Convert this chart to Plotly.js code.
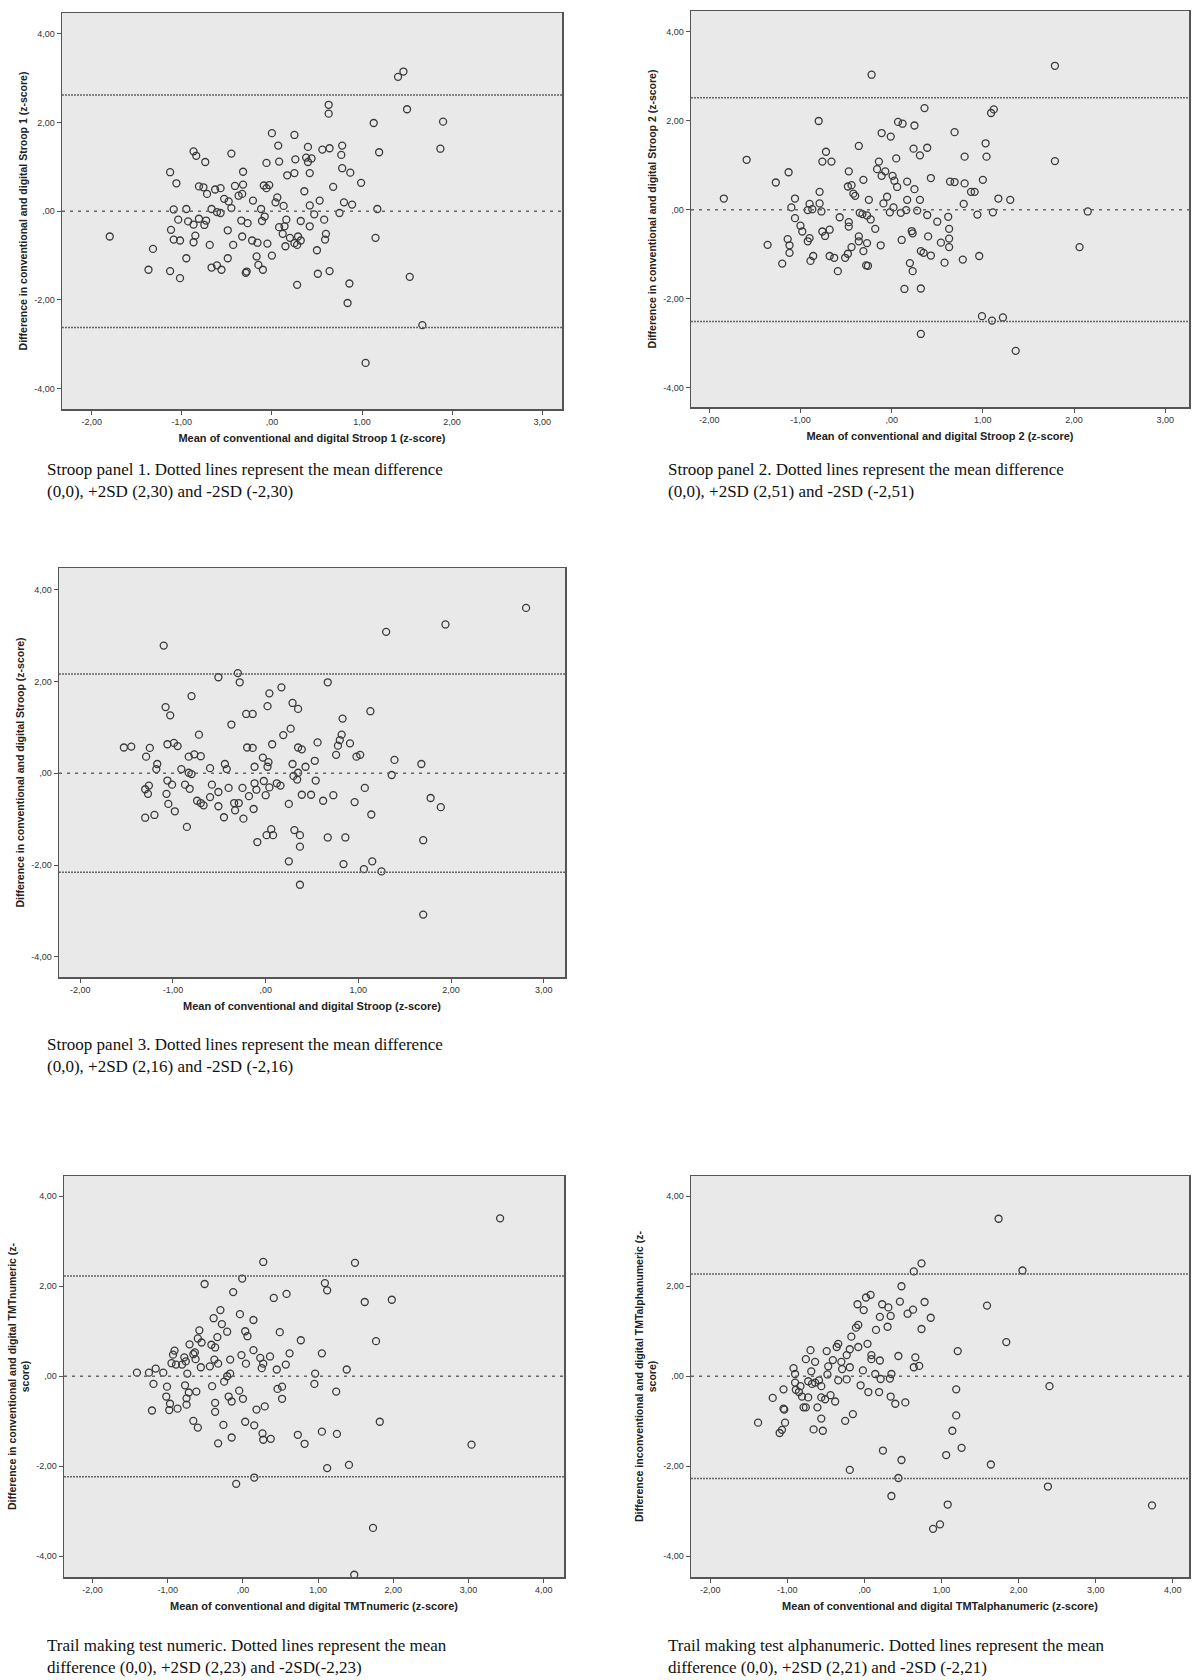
<!DOCTYPE html>
<html>
<head>
<meta charset="utf-8">
<script src="https://cdn.plot.ly/plotly-3.0.1.min.js"></script>
<style>
  html, body { margin: 0; padding: 0; background: #fff; }
  #chart { width: 1192px; height: 1680px; }
</style>
</head>
<body>
<div id="chart"></div>
<script>
// ── Data ──────────────────────────────────────────────────────────────

// Stroop panel 1
const p1x = [-1.80,1.40,1.46,1.50,1.90,1.87,0.63,0.63,1.13,0.00,0.25,0.07,0.40,0.56,0.64,0.78,0.77,1.19,-0.87,-0.84,-0.74,-0.45,-0.06,0.08,0.26,0.38,0.40,0.44,-1.13,-0.32,0.17,0.25,0.42,0.78,0.87,0.99,-1.06,-0.81,-0.76,-0.72,-0.63,-0.57,-0.53,-0.48,-0.41,-0.37,-0.33,-0.32,-0.09,-0.03,-0.06,-0.21,0.06,0.04,0.13,0.36,0.68,0.53,0.42,0.80,0.89,-1.09,-0.95,-0.67,-0.61,-0.57,-0.45,-0.12,-0.08,1.17,0.75,0.47,-1.04,-0.93,-0.87,-0.81,-0.75,-0.73,-0.34,-0.27,-0.11,0.16,0.14,0.08,0.32,0.42,0.58,-1.12,-0.49,0.12,0.20,0.29,0.32,0.25,0.60,0.59,1.15,-1.09,-1.02,-0.87,-0.85,-0.69,-0.43,-0.33,-0.22,-0.16,-0.05,0.15,0.28,-1.32,0.50,-0.95,-0.49,-0.17,0.00,-0.67,-0.61,-0.56,-0.29,-0.28,-0.15,-0.10,-1.37,-1.13,-1.02,0.51,0.64,0.28,0.86,1.53,0.84,1.67,1.04];
const p1y = [-0.57,3.03,3.15,2.30,2.02,1.41,2.40,2.20,1.99,1.76,1.72,1.48,1.45,1.39,1.42,1.48,1.27,1.33,1.35,1.25,1.11,1.30,1.09,1.12,1.17,1.21,1.11,1.19,0.88,0.89,0.81,0.86,0.86,0.97,0.87,0.64,0.63,0.56,0.54,0.39,0.49,0.52,0.28,0.22,0.57,0.35,0.39,0.60,0.58,0.59,0.52,0.24,0.31,0.20,0.12,0.45,0.55,0.24,0.13,0.20,0.15,0.04,0.05,0.05,-0.02,-0.04,0.07,0.05,-0.12,0.05,-0.04,-0.07,-0.19,-0.23,-0.30,-0.17,-0.31,-0.21,-0.21,-0.27,-0.22,-0.19,-0.34,-0.36,-0.22,-0.34,-0.19,-0.42,-0.43,-0.51,-0.60,-0.57,-0.66,-0.72,-0.51,-0.64,-0.60,-0.64,-0.66,-0.70,-0.55,-0.76,-0.76,-0.57,-0.66,-0.71,-0.73,-0.79,-0.76,-0.85,-0.88,-1.06,-1.06,-1.02,-1.00,-1.27,-1.22,-1.32,-1.39,-1.36,-1.21,-1.32,-1.32,-1.35,-1.51,-1.41,-1.35,-1.66,-1.63,-1.48,-2.07,-2.57,-3.42];

// Stroop panel 2
const p2x = [-1.84,-1.59,-1.27,-1.13,-1.06,-1.10,-1.06,-1.00,-0.98,-1.14,-1.12,-1.12,-1.36,-1.20,-0.90,-0.92,-0.87,-0.79,-0.77,-0.79,-0.80,-0.72,-0.76,-0.66,-0.90,-0.92,-0.76,-0.73,-0.68,-0.86,-0.89,-0.68,-0.63,-0.59,-0.51,-0.48,-0.44,-0.57,-0.47,-0.47,-0.47,-0.48,-0.44,-0.42,-0.40,-0.36,-0.31,-0.35,-0.32,-0.27,-0.36,-0.36,-0.27,-0.31,-0.28,-0.26,-0.25,-0.23,-0.18,-0.22,-0.12,-0.14,-0.16,-0.11,-0.11,-0.07,-0.09,-0.05,-0.01,0.01,0.03,0.05,0.06,-0.02,0.02,0.07,0.12,0.10,0.11,0.17,0.17,0.16,0.22,0.23,0.20,0.23,0.14,0.24,0.25,0.25,0.28,0.31,0.31,0.36,0.39,0.39,0.32,0.35,0.43,0.40,0.43,0.32,0.32,0.50,0.54,0.58,0.62,0.63,0.63,0.63,0.64,0.69,0.69,0.78,0.79,0.80,0.80,0.87,0.91,0.94,0.96,1.00,1.03,1.04,1.09,1.12,1.11,1.17,1.30,0.99,1.10,1.22,1.36,1.79,1.79,2.06,2.15];
const p2y = [0.25,1.12,0.61,0.84,0.25,0.05,-0.19,-0.36,-0.49,-0.66,-0.80,-0.97,-0.79,-1.21,0.13,-0.01,0.01,0.14,-0.04,0.40,1.99,1.30,1.08,1.08,-0.64,-0.71,-0.49,-0.59,-0.45,-1.04,-1.15,-1.04,-1.08,-1.38,-1.08,-0.99,-0.84,-0.17,-0.28,-0.38,0.86,0.52,0.55,0.36,0.31,1.43,0.67,-0.07,-0.10,-0.13,-0.60,-0.71,-0.75,-0.93,-1.25,-1.26,0.22,-0.22,-0.43,3.03,-0.80,1.08,0.91,1.72,0.76,0.86,0.14,0.29,1.64,0.76,0.65,1.15,0.51,-0.06,0.05,1.97,1.93,-0.07,-0.68,0.63,0.22,-0.01,-0.48,-0.53,-1.20,-1.38,-1.78,1.37,1.89,0.46,-0.02,1.22,0.22,2.28,1.39,-0.12,-0.93,-0.97,-1.03,-0.60,0.71,-1.77,-2.79,-0.27,-0.74,-1.19,-0.16,-0.43,-0.65,-0.84,0.63,0.62,1.74,-1.12,0.13,0.59,1.19,0.40,0.40,-0.11,-1.04,0.67,1.49,1.19,2.17,2.25,-0.06,0.25,0.22,-2.39,-2.49,-2.42,-3.17,3.23,1.09,-0.84,-0.04];

// Stroop panel 3
const p3x = [-1.53,-1.45,-1.29,-1.25,-1.17,-1.18,-1.30,-1.26,-1.27,-1.30,-1.20,-1.10,-1.08,-1.03,-1.06,-0.99,-0.95,-1.06,-1.01,-1.07,-1.05,-0.98,-0.91,-0.87,-0.83,-0.80,-0.82,-0.85,-0.80,-0.83,-0.77,-0.70,-0.72,-0.74,-0.70,-0.67,-0.60,-0.58,-0.60,-0.51,-0.51,-0.51,-0.44,-0.42,-0.40,-0.45,-0.37,-0.34,-0.33,-0.30,-0.28,-0.29,-0.25,-0.24,-0.21,-0.14,-0.20,-0.14,-0.12,-0.12,-0.10,-0.13,-0.18,-0.09,-0.03,-0.02,0.00,0.02,0.04,0.03,0.02,0.04,0.01,0.06,0.08,0.07,0.12,0.16,0.17,0.19,0.25,0.25,0.27,0.29,0.29,0.35,0.30,0.34,0.35,0.35,0.39,0.31,0.37,0.37,0.37,0.39,0.43,0.49,0.53,0.54,0.56,0.62,0.67,0.67,0.73,0.76,0.78,0.80,0.82,0.83,0.84,0.86,0.91,0.96,0.98,1.02,1.06,1.07,1.13,1.14,1.15,1.25,1.30,1.36,1.39,1.68,1.70,1.70,1.78,1.89,1.94,2.81];
const p3y = [0.56,0.58,0.36,0.55,0.20,0.09,-0.35,-0.27,-0.45,-0.97,-0.91,2.78,1.44,1.26,0.63,0.66,0.59,-0.16,-0.25,-0.45,-0.67,-0.83,0.09,-0.25,0.01,-0.02,-0.34,-1.17,1.68,0.36,0.41,0.37,0.84,-0.60,-0.65,-0.70,0.11,-0.25,-0.52,-0.72,2.09,-0.41,0.20,0.09,-0.32,-0.96,1.06,-0.65,-0.81,2.18,1.98,-0.65,-0.32,-0.99,1.29,1.29,0.56,0.55,0.14,-0.22,-0.36,-0.78,-0.50,-1.50,0.34,-0.17,-0.48,1.46,1.74,0.24,0.14,-0.31,-1.35,-1.22,-1.35,0.63,-0.22,-0.27,1.87,0.83,-0.67,-1.92,0.97,0.20,1.53,1.40,-0.06,-0.14,0.01,0.56,0.52,-1.24,-1.35,-1.60,-2.43,-0.47,0.14,-0.47,0.27,-0.16,0.67,-0.60,1.98,-1.40,-0.48,0.40,0.60,0.72,0.84,1.19,-1.98,-1.40,0.65,-0.63,0.36,0.40,-2.09,-0.32,1.35,-0.90,-1.92,-2.14,3.08,-0.04,0.29,0.20,-1.46,-3.08,-0.54,-0.74,3.24,3.60];

// Trail making test numeric
const p4x = [-1.41,-1.25,-1.16,-1.06,-1.19,-1.21,-1.01,-1.02,-0.97,-0.98,-0.95,-0.93,-0.91,-0.89,-0.87,-0.81,-0.78,-0.76,-0.74,-0.77,-0.72,-0.75,-0.75,-0.71,-0.66,-0.64,-0.63,-0.62,-0.66,-0.60,-0.58,-0.56,-0.60,-0.55,-0.51,-0.42,-0.44,-0.41,-0.39,-0.38,-0.37,-0.37,-0.37,-0.34,-0.33,-0.33,-0.30,-0.28,-0.26,-0.25,-0.21,-0.21,-0.19,-0.17,-0.17,-0.15,-0.15,-0.13,-0.09,-0.04,-0.05,-0.02,-0.01,0.00,0.03,0.04,0.06,0.03,0.14,0.14,0.15,0.15,0.18,0.23,0.25,0.27,0.26,0.27,0.27,0.29,0.36,0.37,0.41,0.45,0.46,0.49,0.52,0.52,0.57,0.58,0.62,0.73,0.77,0.82,0.95,0.96,1.05,1.05,1.09,1.12,1.12,1.24,1.25,1.38,1.41,1.49,1.48,1.62,1.73,1.77,1.82,1.98,3.04,3.42];
const p4y = [0.08,0.08,0.17,0.08,-0.17,-0.76,-0.23,-0.45,-0.61,-0.75,0.29,0.48,0.57,0.26,-0.72,0.26,0.42,0.33,0.06,-0.20,-0.36,-0.49,-0.63,0.71,0.49,0.53,0.38,-0.34,-0.99,-1.14,1.02,0.20,0.84,0.75,2.05,0.70,0.22,-0.22,1.29,0.37,-0.59,-0.79,0.64,0.87,0.28,-1.49,1.47,1.16,-1.08,-0.12,0.99,0.00,-0.45,0.37,0.06,-0.56,-1.36,1.87,-2.39,1.38,-0.32,0.47,2.17,-0.50,1.00,0.28,0.89,-1.01,1.25,0.58,-2.25,-1.09,-0.74,0.41,0.18,0.28,-1.27,-1.41,2.54,-0.67,0.44,-1.39,1.74,0.15,-0.28,0.98,-0.23,-0.50,0.26,1.83,0.51,-1.30,0.80,-1.50,-0.17,0.06,-1.23,0.51,2.07,1.91,-2.04,-0.34,-1.28,0.15,-1.97,2.52,-4.41,1.65,-3.37,0.78,-1.01,1.70,-1.52,3.51];

// Trail making test alphanumeric
const p5x = [-1.38,-1.19,-1.10,-1.07,-1.05,-1.05,-1.04,-1.03,-0.92,-0.90,-0.90,-0.89,-0.85,-0.83,-0.81,-0.79,-0.76,-0.76,-0.73,-0.73,-0.70,-0.69,-0.68,-0.66,-0.64,-0.64,-0.61,-0.59,-0.56,-0.56,-0.56,-0.54,-0.51,-0.49,-0.47,-0.48,-0.44,-0.41,-0.38,-0.36,-0.34,-0.34,-0.30,-0.29,-0.25,-0.23,-0.23,-0.19,-0.19,-0.19,-0.17,-0.15,-0.11,-0.09,-0.08,-0.08,-0.05,-0.02,-0.01,0.02,0.04,0.05,0.08,0.09,0.09,0.14,0.15,0.19,0.20,0.20,0.21,0.23,0.24,0.30,0.31,0.34,0.34,0.33,0.35,0.35,0.40,0.44,0.44,0.46,0.48,0.48,0.53,0.56,0.63,0.64,0.66,0.64,0.71,0.74,0.74,0.78,0.86,0.89,0.98,1.06,1.08,1.14,1.19,1.19,1.21,1.26,1.59,1.64,1.74,1.84,2.05,2.38,2.40,3.73];
const p5y = [-1.03,-0.48,-1.26,-1.19,-0.29,-0.72,-0.74,-1.03,0.18,0.05,-0.14,-0.30,-0.35,-0.22,-0.45,-0.69,-0.69,0.38,-0.47,-0.11,0.58,0.11,-0.17,-1.18,0.32,-0.14,-0.69,-0.09,-0.22,-0.47,-0.94,-1.21,-0.51,0.56,0.22,0.04,-0.42,0.36,-0.56,0.65,0.72,-0.09,0.32,0.16,-0.99,-0.07,0.47,0.20,0.60,-2.08,0.88,-0.84,1.08,1.60,1.14,0.65,-0.20,0.13,1.47,1.75,0.72,-0.35,1.81,0.47,0.38,0.05,1.03,-0.35,1.32,0.35,-0.06,1.60,-1.65,1.10,1.53,1.34,-0.45,-0.05,0.05,-2.66,-0.61,-2.26,0.45,1.66,2.00,-1.86,-0.58,1.39,1.48,0.20,0.42,2.33,0.23,1.05,2.51,1.65,1.30,-3.39,-3.29,-1.75,-2.85,-1.21,-0.29,-0.87,0.56,-1.59,1.57,-1.96,3.50,0.76,2.35,-2.45,-0.22,-2.87];

// Limits of agreement (dotted lines)
const limits = [2.62, 2.51, 2.16, 2.23, 2.27];

const yTicks = [-4, -2, 0, 2, 4];
const yTickText = ['-4,00', '-2,00', ',00', '2,00', '4,00'];
const xTicksStroop = [-2, -1, 0, 1, 2, 3];
const xTextStroop = ['-2,00', '-1,00', ',00', '1,00', '2,00', '3,00'];
const xTicksTmt = [-2, -1, 0, 1, 2, 3, 4];
const xTextTmt = ['-2,00', '-1,00', ',00', '1,00', '2,00', '3,00', '4,00'];

const xTitles = [
    'Mean of conventional and digital Stroop 1 (z-score)',
    'Mean of conventional and digital Stroop 2 (z-score)',
    'Mean of conventional and digital Stroop (z-score)',
    'Mean of conventional and digital TMTnumeric (z-score)',
    'Mean of conventional and digital TMTalphanumeric (z-score)'
];
const yTitles = [
    'Difference in conventional and digital Stroop 1 (z-score)',
    'Difference in conventional and digital Stroop 2 (z-score)',
    'Difference in conventional and digital Stroop (z-score)',
    'Difference in conventional and digital TMTnumeric (z-<br>score)',
    'Difference inconventional and digital TMTalphanumeric (z-<br>score)'
];
const captions = [
    'Stroop panel 1. Dotted lines represent the mean difference<br>(0,0), +2SD (2,30) and -2SD (-2,30)',
    'Stroop panel 2. Dotted lines represent the mean difference<br>(0,0), +2SD (2,51) and -2SD (-2,51)',
    'Stroop panel 3. Dotted lines represent the mean difference<br>(0,0), +2SD (2,16) and -2SD (-2,16)',
    'Trail making test numeric. Dotted lines represent the mean<br>difference (0,0), +2SD (2,23) and -2SD(-2,23)',
    'Trail making test alphanumeric. Dotted lines represent the mean<br>difference (0,0), +2SD (2,21) and -2SD (-2,21)'
];

// ── Layout of the five panels (pixel boxes, turned into paper fractions) ──
const W = 1192, H = 1680;
const panels = [
    { xs: p1x, ys: p1y, px: [62, 562],  py: [13, 409],    xr: [-2.33, 3.22], yr: [-4.46, 4.47], tmt: false, cap: [45, 458] },
    { xs: p2x, ys: p2y, px: [691, 1189], py: [11, 407],   xr: [-2.2, 3.26],  yr: [-4.43, 4.46], tmt: false, cap: [666, 458] },
    { xs: p3x, ys: p3y, px: [59, 565],  py: [568, 977],   xr: [-2.23, 3.23], yr: [-4.44, 4.47], tmt: false, cap: [45, 1033] },
    { xs: p4x, ys: p4y, px: [64, 564],  py: [1176, 1577], xr: [-2.38, 4.27], yr: [-4.46, 4.45], tmt: true,  cap: [45, 1634] },
    { xs: p5x, ys: p5y, px: [691, 1189], py: [1176, 1577], xr: [-2.25, 4.21], yr: [-4.46, 4.45], tmt: true,  cap: [666, 1634] }
];

const traces = [];
const shapes = [];
const annotations = [];
const layout = {
    width: W, height: H,
    margin: { l: 0, r: 0, t: 0, b: 0 },
    paper_bgcolor: '#ffffff',
    plot_bgcolor: '#e9e9e9',
    showlegend: false,
    font: { family: 'Liberation Sans, Arial, sans-serif', color: '#222' }
};

panels.forEach((p, i) => {
    const n = i + 1;
    const xa = 'x' + (n === 1 ? '' : n);
    const ya = 'y' + (n === 1 ? '' : n);
    const xKey = 'xaxis' + (n === 1 ? '' : n);
    const yKey = 'yaxis' + (n === 1 ? '' : n);

    traces.push({
        x: p.xs, y: p.ys, xaxis: xa, yaxis: ya,
        type: 'scatter', mode: 'markers', cliponaxis: false,
        marker: { symbol: 'circle-open', size: 7, color: '#3a3a3a', line: { width: 1.3, color: '#3a3a3a' } },
        hoverinfo: 'x+y'
    });

    layout[xKey] = {
        domain: [p.px[0] / W, p.px[1] / W],
        anchor: ya,
        range: p.xr,
        tickmode: 'array',
        tickvals: p.tmt ? xTicksTmt : xTicksStroop,
        ticktext: p.tmt ? xTextTmt : xTextStroop,
        ticks: 'outside', ticklen: 4, tickcolor: '#555',
        tickfont: { size: 9, color: '#333' },
        showgrid: false, zeroline: false,
        showline: true, linecolor: '#555', linewidth: 1.5, mirror: true,
        title: { text: '<b>' + xTitles[i] + '</b>', font: { size: 11, color: '#222' }, standoff: 8 }
    };
    layout[yKey] = {
        domain: [1 - p.py[1] / H, 1 - p.py[0] / H],
        anchor: xa,
        range: p.yr,
        tickmode: 'array',
        tickvals: yTicks,
        ticktext: yTickText,
        ticks: 'outside', ticklen: 4, tickcolor: '#555',
        tickfont: { size: 9, color: '#333' },
        showgrid: false, zeroline: false,
        showline: true, linecolor: '#555', linewidth: 1.5, mirror: true,
        title: { text: '<b>' + yTitles[i] + '</b>', font: { size: 10.5, color: '#222' }, standoff: 4 }
    };

    // mean difference and ±2SD lines
    [limits[i], -limits[i]].forEach(v => {
        shapes.push({
            type: 'line', xref: xa + ' domain', yref: ya, x0: 0, x1: 1, y0: v, y1: v,
            line: { color: '#666', width: 1.5, dash: '2px,1px' }
        });
    });
    shapes.push({
        type: 'line', xref: xa + ' domain', yref: ya, x0: 0, x1: 1, y0: 0, y1: 0,
        line: { color: '#666', width: 1.5, dash: '3px,5px' }
    });

    annotations.push({
        text: captions[i],
        xref: 'paper', yref: 'paper',
        x: p.cap[0] / W, y: 1 - p.cap[1] / H,
        xanchor: 'left', yanchor: 'top', align: 'left',
        showarrow: false,
        font: { family: 'Liberation Serif, Times New Roman, serif', size: 17, color: '#111' }
    });
});

layout.shapes = shapes;
layout.annotations = annotations;

Plotly.newPlot('chart', traces, layout, { displayModeBar: false, staticPlot: true });
</script>
</body>
</html>
